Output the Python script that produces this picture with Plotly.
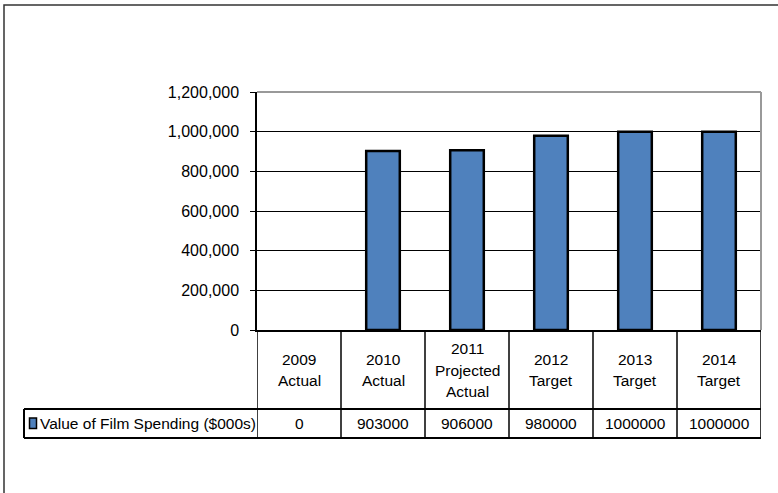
import plotly.graph_objects as go

# Chart data
categories = ["2009 Actual", "2010 Actual", "2011 Projected Actual",
              "2012 Target", "2013 Target", "2014 Target"]
header_lines = [["2009", "Actual"], ["2010", "Actual"], ["2011", "Projected", "Actual"],
                ["2012", "Target"], ["2013", "Target"], ["2014", "Target"]]
film_spending = [0, 903000, 906000, 980000, 1000000, 1000000]
series_name = "Value of Film Spending ($000s)"
y_ticks = [0, 200000, 400000, 600000, 800000, 1000000, 1200000]

# Layout in pixels
W, H = 778, 493
PL, PR, PT, PB = 257, 761, 92, 330
plot_h = PB - PT
plot_w = PR - PL

BAR_BLUE = "#4F81BD"
FONT = "Arial, Liberation Sans, sans-serif"
TABLE_FONT = dict(family=FONT, size=15.5, color="black")


def py(px):
    """Pixel row -> paper y."""
    return (PB - px) / plot_h


def pxx(px):
    """Pixel column -> paper x."""
    return (px - PL) / plot_w


fig = go.Figure()
fig.add_trace(go.Bar(
    x=list(range(len(categories))),
    y=film_spending,
    width=0.4,
    marker=dict(color=BAR_BLUE,
                line=dict(color="black", width=[2.5 if v else 0 for v in film_spending])),
    name=series_name,
    showlegend=False,
    hoverinfo="skip",
))

shapes = []
annotations = []

# Outer chart frame
shapes.append(dict(type="rect", xref="paper", yref="paper",
                   x0=pxx(4), x1=pxx(W + 20), y0=py(H + 20), y1=py(5),
                   line=dict(color="#333", width=1.5), layer="below"))

# Plot area top and right edges (gray)
shapes.append(dict(type="line", xref="paper", yref="paper", x0=0, x1=1, y0=1, y1=1,
                   line=dict(color="#999", width=2)))
shapes.append(dict(type="line", xref="paper", yref="paper", x0=1, x1=1, y0=0, y1=1,
                   line=dict(color="#999", width=2)))

# Data table rows
row_top = py(409)
row_bot = py(438)
header_mid = 370
value_mid = 423.5
n = len(categories)

# Column separators through header and value rows
for i in range(n + 1):
    shapes.append(dict(type="line", xref="x", yref="paper",
                       x0=i - 0.5, x1=i - 0.5, y0=row_bot, y1=0,
                       line=dict(color="black", width=1.5)))
# Value row borders
shapes.append(dict(type="line", xref="paper", yref="paper",
                   x0=pxx(24), x1=1, y0=row_top, y1=row_top,
                   line=dict(color="black", width=2)))
shapes.append(dict(type="line", xref="paper", yref="paper",
                   x0=pxx(24), x1=1, y0=row_bot, y1=row_bot,
                   line=dict(color="black", width=2)))
shapes.append(dict(type="line", xref="paper", yref="paper",
                   x0=pxx(24), x1=pxx(24), y0=row_bot, y1=row_top,
                   line=dict(color="black", width=2)))

# Legend key in the table
shapes.append(dict(type="rect", xref="paper", yref="paper",
                   x0=pxx(29.5), x1=pxx(36.5), y0=py(428.5), y1=py(418),
                   fillcolor=BAR_BLUE, line=dict(color="black", width=1.5)))
annotations.append(dict(text=series_name, xref="paper", yref="paper",
                        x=pxx(37.5), y=py(value_mid), xanchor="left", yanchor="middle",
                        showarrow=False, font=TABLE_FONT))

# Header labels and values
line_gap = 21.5
for i, (lines, v) in enumerate(zip(header_lines, film_spending)):
    k = len(lines)
    for j, t in enumerate(lines):
        yy = header_mid + (j - (k - 1) / 2) * line_gap
        annotations.append(dict(text=t, xref="x", yref="paper", x=i, y=py(yy),
                                xanchor="center", yanchor="middle", showarrow=False,
                                font=TABLE_FONT))
    annotations.append(dict(text=str(v), xref="x", yref="paper", x=i, y=py(value_mid),
                            xanchor="center", yanchor="middle", showarrow=False,
                            font=TABLE_FONT))

fig.update_layout(
    width=W, height=H,
    margin=dict(l=PL, r=W - PR, t=PT, b=H - PB, pad=0),
    paper_bgcolor="white", plot_bgcolor="white",
    shapes=shapes, annotations=annotations,
    xaxis=dict(range=[-0.5, n - 0.5], showticklabels=False, showgrid=False,
               zeroline=False, showline=True, linecolor="black", linewidth=2,
               ticks="", fixedrange=True),
    yaxis=dict(range=[0, 1200000], tickvals=y_ticks, tickformat=",",
               showgrid=True, gridcolor="black", gridwidth=1.3,
               zeroline=False, showline=True, linecolor="black", linewidth=1.5,
               ticks="outside", ticklen=5, tickcolor="black", tickwidth=1.3,
               ticklabelstandoff=8,
               tickfont=dict(family=FONT, size=16, color="black"), fixedrange=True),
)

fig.write_html("out.html")
